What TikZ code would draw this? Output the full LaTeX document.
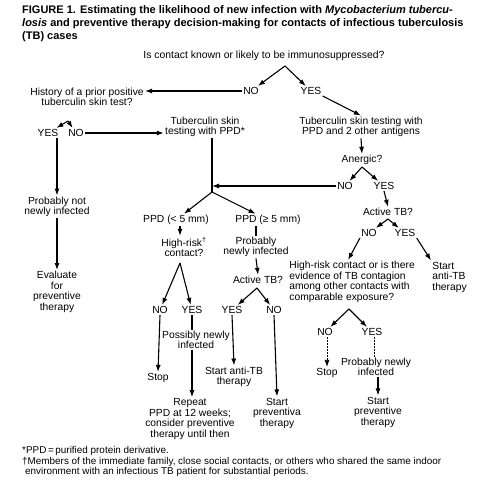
\documentclass[tikz,border=0pt]{standalone}
\usepackage{fontspec}
\setmainfont{Liberation Sans}
\usetikzlibrary{arrows.meta}

\begin{document}
\begin{tikzpicture}[x=1pt,y=-1pt,
  lbl/.style={align=center,inner sep=1.2pt,font=\fontsize{10.3}{10.5}\selectfont},
  arr/.style={line width=1.1pt,-{Latex[length=7pt,width=5pt]}},
  ln/.style={line width=1.1pt},
  brk/.style={line width=0.8pt,dash pattern=on 2pt off 1pt}]
\useasboundingbox (0,0) rectangle (489,484);
% title and footnotes
\node[anchor=north west,align=left,inner sep=0pt,
  font=\bfseries\fontsize{11}{13.3}\selectfont] (title) at (22,5)
  {FIGURE 1. Estimating the likelihood of new infection with \textit{Mycobacterium tubercu-}\\
   \textit{losis} and preventive therapy decision-making for contacts of infectious tuberculosis\\
   (TB) cases};
\node[anchor=west,inner sep=0pt,font=\fontsize{9.9}{10.5}\selectfont] (fnppd) at (22,451)
  {*PPD\,=\,purified protein derivative.};
\node[anchor=north west,align=left,inner sep=0pt,font=\fontsize{9.9}{10.5}\selectfont] (fnrisk) at (22,457)
  {†Members of the immediate family, close social contacts, or others who shared the same indoor\\
   \hspace*{3pt}environment with an infectious TB patient for substantial periods.};
% top question
\node[lbl,font=\fontsize{10.4}{11}\selectfont] (quest) at (264,56) {Is contact known or likely to be immunosuppressed?};
\coordinate (apexq) at (285,66);
\node[lbl] (noq) at (251,91) {NO};
\node[lbl] (yesq) at (311,91) {YES};
\draw[arr] (apexq) -- (noq);
\draw[arr] (apexq) -- (yesq);
% left branch
\node[lbl] (hist) at (87,97) {History of a prior positive\\tuberculin skin test?};
\draw[arr] (noq.west) -- (noq -| hist.east);
\coordinate (apexh) at (68,121);
\node[lbl] (yesh) at (48,133) {YES};
\node[lbl] (noh) at (76,133) {NO};
\draw[arr] (apexh) -- (yesh);
\draw[arr] (apexh) -- (noh);
\node[lbl] (tstppd) at (205,127) {Tuberculin skin\\testing with PPD*};
\draw[arr] (noh.east) -- (noh -| tstppd.west);
\node[lbl] (notnew) at (57,207) {Probably not\\newly infected};
\node[lbl] (evalprev) at (57,292) {Evaluate\\for\\preventive\\therapy};
\draw[arr] (notnew.north |- yesh.south) -- (notnew.north);
\draw[arr] (notnew.south) -- (evalprev.north);
% right branch
\node[lbl] (tstant) at (361,127) {Tuberculin skin testing with\\PPD and 2 other antigens};
\draw[arr] (yesq.south east) -- (tstant.north);
\node[lbl] (anerg) at (362,160) {Anergic?};
\draw[arr] (tstant.south) -- (anerg.north);
\coordinate (apexa) at (362,167);
\node[lbl] (noa) at (345,186) {NO};
\node[lbl] (yesa) at (384,186) {YES};
\draw[arr] (apexa) -- (noa);
\draw[arr] (apexa) -- (yesa);
% PPD results
\coordinate (junc) at (212,192);
\draw[ln] (junc |- tstppd.south) -- (junc);
\draw[arr] (noa.west) -- (noa -| junc);
\node[lbl] (ppdlo) at (176,220) {PPD (< 5 mm)};
\node[lbl] (ppdhi) at (268,220) {PPD (≥ 5 mm)};
\draw[arr] (junc) -- (ppdlo);
\draw[arr] (junc) -- (ppdhi);
\node[lbl] (hrisk) at (184,247) {High-risk\textsuperscript{†}\\contact?};
\draw[arr] ([xshift=4pt]ppdlo.south) -- ([xshift=4pt]ppdlo.south |- hrisk.north);
\coordinate (apexr) at (180,263);
\node[lbl] (nor) at (160,310) {NO};
\node[lbl] (yesr) at (192,310) {YES};
\draw[arr] (apexr) -- (nor);
\draw[arr] (apexr) -- (yesr);
\node[lbl] (probnew) at (256,247) {Probably\\newly infected};
\draw[ln] (ppdhi.south -| probnew.north) -- (probnew.north);
\node[lbl] (activel) at (258,280) {Active TB?};
\draw[arr] (probnew.south) -- (activel.north);
\coordinate (apexl) at (257,288);
\node[lbl] (yesl) at (232,310) {YES};
\node[lbl] (nol) at (274,310) {NO};
\draw[arr] (apexl) -- (yesl);
\draw[arr] (apexl) -- (nol);
% bottom left outcomes
\node[lbl] (stopl) at (158,378) {Stop};
\draw[arr] (nor.south) -- (stopl.north);
\node[lbl] (possnew) at (196,340) {Possibly newly\\infected};
\draw[ln] (yesr.south) -- (yesr.south |- possnew.north);
\node[lbl] (repeat) at (190,419) {Repeat\\PPD at 12 weeks;\\consider preventive\\therapy until then};
\draw[arr] (possnew.south -| yesr) -- (yesr |- repeat.north);
\node[lbl] (antitbl) at (234,377) {Start anti-TB\\therapy};
\draw[arr] (yesl.south) -- (antitbl.north);
\node[lbl] (prevl) at (277,413) {Start\\preventiva\\therapy};
\draw[arr] (nol.south) -- (prevl.north);
% right side active TB
\node[lbl] (activer) at (388,212) {Active TB?};
\draw[arr] (yesa.south) -- (activer.north);
\coordinate (apexc) at (388,219);
\node[lbl] (noc) at (369,233) {NO};
\node[lbl] (yesc) at (405,233) {YES};
\draw[arr] (apexc) -- (noc);
\draw[arr] (apexc) -- (yesc);
\node[lbl,align=left,anchor=west] (contag) at (288,282)
  {High-risk contact or is there\\evidence of TB contagion\\among other contacts with\\comparable exposure?};
\node[lbl,align=left,anchor=west] (antitbr) at (431,277) {Start\\anti-TB\\therapy};
\draw[arr] (noc.south west) -- ([xshift=-4pt]contag.north);
\draw[arr] (yesc.south east) -- (antitbr.north west);
\coordinate (apexe) at (349,309);
\node[lbl] (noe) at (325,332) {NO};
\node[lbl] (yese) at (372,332) {YES};
\draw[arr] (apexe) -- (noe);
\draw[arr] (apexe) -- (yese);
\node[lbl] (stopr) at (327,373) {Stop};
\draw[brk,-{Latex[length=7pt,width=5pt]}] (noe.south -| stopr) -- (stopr.north);
\node[lbl] (probnewr) at (376,367) {Probably newly\\infected};
\draw[brk] ([xshift=2pt]yese.south) -- ([xshift=2pt]yese.south |- probnewr.north);
\node[lbl] (prevr) at (378,412) {Start\\preventive\\therapy};
\draw[arr] (probnewr.south -| prevr) -- (prevr.north);
\end{tikzpicture}
\end{document}
